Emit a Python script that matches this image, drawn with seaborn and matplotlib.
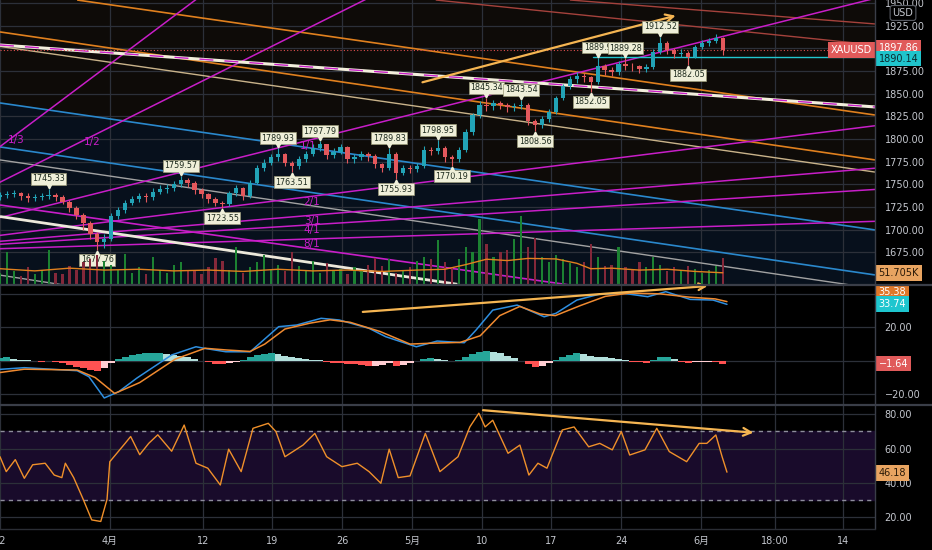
import matplotlib
matplotlib.use('Agg')
import matplotlib.pyplot as plt
import matplotlib.transforms as mtransforms
from matplotlib.lines import Line2D
import numpy as np
import pandas as pd
import seaborn as sns

# ── data: XAUUSD half-day bars ───────────────────────────────
first_open = 1736
closes = [1738, 1739, 1740, 1737, 1735, 1736, 1737, 1738, 1736, 1731,
          1724, 1716, 1707, 1695, 1686, 1690, 1715, 1722, 1730, 1734,
          1737, 1736, 1742, 1745, 1746, 1750, 1755, 1752, 1744, 1739,
          1734, 1730, 1728, 1740, 1746, 1737, 1752, 1768, 1774, 1780,
          1783, 1774, 1770, 1778, 1784, 1790, 1794, 1782, 1786, 1791,
          1778, 1780, 1783, 1781, 1772, 1768, 1784, 1763, 1768, 1767,
          1770, 1788, 1787, 1790, 1780, 1778, 1788, 1808, 1826, 1838,
          1836, 1840, 1838, 1835, 1836, 1838, 1820, 1815, 1822, 1830,
          1845, 1858, 1866, 1870, 1868, 1863, 1880, 1876, 1874, 1883,
          1881, 1880, 1877, 1879, 1896, 1906, 1898, 1894, 1895, 1891,
          1901, 1906, 1908, 1911, 1897.86]
highs = [1742, 1743, 1744, 1742, 1740, 1739, 1741, 1745.33, 1740, 1738,
         1733, 1726, 1718, 1710, 1697, 1695, 1718, 1725, 1733, 1737,
         1741, 1740, 1746, 1749, 1750, 1754, 1759.57, 1757, 1754, 1746,
         1741, 1736, 1732, 1743, 1749, 1747, 1755, 1771, 1778, 1784,
         1789.93, 1785, 1776, 1781, 1787, 1794, 1797.79, 1795, 1790, 1795,
         1792, 1784, 1787, 1786, 1783, 1774, 1789.83, 1786, 1771, 1771,
         1774, 1792, 1791, 1798.95, 1792, 1782, 1791, 1811, 1829, 1842,
         1845.34, 1843, 1842, 1840, 1840, 1843.54, 1840, 1822, 1825, 1833,
         1848, 1861, 1870, 1874, 1873, 1870, 1889.9, 1883, 1879, 1886,
         1889.28, 1884, 1882, 1883, 1899, 1912.52, 1908, 1900, 1899, 1897,
         1904, 1909, 1911, 1916, 1913]
lows = [1733, 1735, 1736, 1733, 1731, 1732, 1733, 1734, 1732, 1728,
        1720, 1712, 1700, 1690, 1677.76, 1680, 1688, 1712, 1719, 1727,
        1731, 1731, 1733, 1739, 1741, 1743, 1747, 1747, 1739, 1735,
        1730, 1726, 1723.55, 1726, 1737, 1733, 1735, 1750, 1765, 1771,
        1776, 1770, 1763.51, 1767, 1775, 1781, 1787, 1778, 1779, 1783,
        1774, 1774, 1777, 1776, 1768, 1764, 1766, 1755.93, 1760, 1763,
        1764, 1768, 1782, 1784, 1775, 1770.19, 1775, 1786, 1805, 1823,
        1831, 1832, 1833, 1830, 1831, 1833, 1815, 1808.56, 1812, 1819,
        1828, 1843, 1855, 1862, 1863, 1852.05, 1861, 1871, 1869, 1871,
        1876, 1875, 1873, 1874, 1877, 1894, 1894, 1889, 1890, 1882.05,
        1889, 1899, 1903, 1906, 1893]
volume_k = [45, 120, 50, 35, 65, 40, 55, 130, 45, 40,
            70, 55, 85, 95, 110, 90, 75, 55, 115, 45,
            65, 40, 105, 55, 45, 75, 85, 50, 55, 40,
            65, 100, 90, 55, 140, 45, 65, 85, 110, 55,
            75, 50, 120, 70, 55, 90, 45, 80, 50, 60,
            40, 65, 55, 75, 100, 70, 95, 45, 55, 65,
            90, 105, 95, 165, 85, 65, 95, 140, 120, 245,
            150, 105, 120, 130, 170, 255, 140, 175, 105, 85,
            110, 95, 80, 65, 85, 150, 105, 70, 75, 140,
            65, 55, 85, 65, 105, 75, 50, 65, 55, 70,
            60, 45, 55, 70, 100]
vol_ma_x = [0, 5, 10, 15, 20, 25, 30, 35, 40, 45, 50, 55, 60, 64, 67, 70, 73, 76,
            80, 83, 85, 88, 92, 96, 100, 104]
vol_ma_k = [60, 52, 62, 55, 58, 52, 55, 50, 58, 52, 55, 50, 55, 58, 75, 95, 90, 98,
            96, 80, 60, 62, 55, 58, 50, 45]

pivot_bars = [7, 14, 26, 32, 40, 42, 46, 56, 57, 63, 65, 70, 75, 77, 85, 86, 90, 95, 99]
pivot_kinds = ['H', 'L', 'H', 'L', 'H', 'L', 'H', 'H', 'L', 'H', 'L', 'H', 'H', 'L',
               'L', 'H', 'H', 'H', 'L']

# MACD (12,26,9)
macd_x = [0, 3.5, 11.1, 12.8, 15.0, 17.1, 19.7, 24.7, 28.2, 29.5, 32.5, 36, 40.1,
          42.7, 46.2, 48.8, 53.1, 55.5, 59.9, 62.9, 66.8, 68.5, 70.9, 74.4, 78.3,
          80, 83, 86.3, 89.8, 93.2, 95.8, 99.3, 102.6, 104.6]
macd_v = [-5.1, -4.1, -5.9, -9.5, -22.2, -18.4, -10.3, 3.5, 8.4, 7.4, 5.4, 5.4, 20.4,
          21.4, 25.4, 24.4, 19.4, 14.4, 8.4, 11.8, 10.8, 18.4, 30.3, 33.3, 26.3,
          28.4, 36.3, 39.9, 40.3, 38.3, 41.3, 36.7, 36.3, 33.74]
signal_x = [0, 3.5, 11.1, 13.7, 16.5, 20.1, 25.2, 29.5, 32.5, 36, 38.1, 41, 44.6,
            47.5, 50.4, 54.7, 59, 61.9, 66.2, 69.1, 71.9, 74.8, 77.7, 79.9, 83.5,
            87.1, 90.6, 95, 99.3, 102.9, 104.6]
signal_v = [-7, -5, -5.5, -10, -19.5, -13, 1, 7.5, 6.5, 5.6, 10, 19, 22.5,
            24.5, 23, 17.5, 10, 10.5, 11, 15, 27, 32.5, 28, 27, 33,
            38.5, 40.5, 40, 38, 37, 35.38]
hist_v = [1.5, 2, 1, 0.5, 0.3, -0.3, -0.5, -0.3, -0.8, -1.5,
          -2.5, -3.5, -4.5, -5.5, -6, -4.5, -1.5, 1, 2.5, 3.5,
          4, 4.5, 4.5, 4.5, 4, 3.5, 3, 2, 1, 0,
          -1, -1.8, -2, -1.2, -0.5, 0.5, 2, 3.5, 4.2, 4.5,
          4, 3, 2, 1.5, 1, 0.5, 0.2, -0.5, -1.2, -1.5,
          -2, -2.2, -2.5, -3, -3, -2.5, -1.5, -2.8, -2.5, -1.5,
          0, 1, 1.5, 1.2, 0.5, 0, 0.5, 2, 4, 5.5,
          6, 5.5, 4.5, 3, 1.5, 0, -2, -3.5, -3, -1.5,
          0.5, 2, 3.5, 4.5, 4, 3, 2.5, 2, 1.5, 1,
          0.5, -0.5, -1, -1.2, 0.5, 2, 2.5, 1, -1, -1.5,
          -1, -0.8, -0.7, -0.8, -1.64]

# RSI (14)
rsi_x = [0, 0.9, 2.2, 3.5, 4.7, 6.5, 7.8, 8.9, 9.4, 10.6, 11.9, 13.2, 14.5, 15.4,
         15.8, 18, 18.8, 20.1, 21.4, 22.7, 24.7, 26.5, 28.2, 29.9, 31.7, 32.9, 34.7,
         36.4, 38.6, 39.7, 41, 43.6, 45.3, 47, 49.2, 51.4, 53.1, 54.8, 56, 57.3, 59,
         61.2, 63.3, 65.9, 67.6, 68.9, 69.8, 70.9, 73.1, 74.8, 76.1, 77.4, 78.7, 80.9,
         82.6, 84.7, 86.3, 88.1, 89.4, 90.6, 92.8, 94.5, 96.3, 98.8, 100.6, 101.7,
         103, 103.9, 104.6]
rsi_v = [55.2, 46.5, 53.5, 42.6, 50.5, 51.4, 44.5, 43, 51.4, 43, 31, 18.3, 17.4, 30.3,
         52.3, 63, 67, 56.4, 63, 68, 58.4, 73.7, 51.4, 48.5, 38.7, 59.6, 46.5,
         71.8, 74.7, 69.9, 55.2, 62, 68.8, 55.2, 49.4, 51.4, 46.5, 39.7, 59.6, 43, 44,
         68.8, 46.5, 55.2, 72.6, 80.6, 72.6, 76.5, 57.2, 62, 44.5, 51.4, 48.5, 70.8,
         72.6, 61, 63, 59.2, 69.9, 56.2, 59.2, 71.8, 58.2, 52.3, 63, 63,
         67.9, 55.2, 46.18]

last_price = 1897.86
ref_price = 1890.14
ref_from_bar = 85.3
last_vol_ma = '51.705K'

# drawings: (bar0, price0, bar1, price1)
orange_lines = [(11.1, 1953.3, 125.9, 1826.5), (0, 1918.1, 125.9, 1777.0)]
beige_line = (0, 1902.1, 125.9, 1763.6)
white_upper = (0, 1903.7, 125.9, 1835.4)
white_lower = (0, 1714.6, 65.8, 1639.9)
blue_lines = [(0, 1839.8, 125.9, 1699.8), (0, 1791.3, 125.9, 1650.2)]
gray_lines = [(0, 1777.0, 122.3, 1639.2), (0, 1650.0, 9.1, 1639.2)]
red_lines = [(62.7, 1953.3, 125.9, 1903.7), (82.0, 1953.3, 125.9, 1926.9)]
magenta_line = (0, 1727.3, 82.0, 1639.1)
fan_origin = (-20.43, 1674.2)
fan_labels = ['1/3', '1/2', '1/1', '2/1', '3/1', '4/1', '8/1']
fan_slopes = [5.75, 3.83, 1.92, 0.96, 0.64, 0.48, 0.24]
fan_label_bars = [2.4, 13.2, 44.3, 44.9, 44.9, 44.9, 44.9]
price_arrow = (60.4, 1861.8, 97.6, 1936.8)
macd_arrow = (51.8, 29.1, 102.2, 44.8)
rsi_arrow = (69.1, 82.5, 108.8, 69.1)

x_ticks = [0, 15.8, 29.2, 39.1, 49.2, 59.3, 69.4, 79.3, 89.4, 100.9, 111.5, 121.3]
x_labels = ['22', '4月', '12', '19', '26', '5月', '10', '17', '24', '6月', '18:00', '14']
price_ticks = [1675, 1700, 1725, 1750, 1775, 1800, 1825, 1850, 1875, 1900, 1925, 1950]

# ── style ───────────────────────────────────────────────────
sns.set_theme(style='dark', rc={'axes.facecolor': '#000000',
                                'figure.facecolor': '#000000'})
plt.rcParams['font.family'] = ['DejaVu Sans', 'Noto Sans CJK JP']

UP, DN = '#22a3b6', '#e3585c'
GRID = '#2c3039'
TXT = '#c4c7ce'
ORANGE = '#e0801e'
MAGENTA = '#c81ec8'
ARROW = '#f5b552'

fig = plt.figure(figsize=(9.32, 5.5), dpi=100)
W = 875 / 932
ax_p = fig.add_axes([0, 1 - 285 / 550, W, 285 / 550])
ax_m = fig.add_axes([0, 1 - 405 / 550, W, 120 / 550], sharex=ax_p)
ax_r = fig.add_axes([0, 1 - 529 / 550, W, 124 / 550], sharex=ax_p)

# volume overlay (twin y inside the price pane)
ax_v = ax_p.twinx()
ax_v.set_ylim(0, 1050)
ax_v.set_yticks([])
ax_v.grid(False)
for s in ax_v.spines.values():
    s.set_visible(False)

for ax in (ax_p, ax_m, ax_r):
    for s in ax.spines.values():
        s.set_visible(False)
    ax.yaxis.tick_right()
    ax.tick_params(axis='y', length=0, pad=7, labelsize=7, labelcolor=TXT)
    ax.tick_params(axis='x', length=0, pad=5, labelsize=7, labelcolor=TXT)
    ax.grid(True, color=GRID, lw=0.9)
    ax.set_axisbelow(True)

ax_p.set_facecolor('#0e0b08')
ax_p.set_xlim(0, 125.9)
ax_p.set_ylim(1639.1, 1953.3)
ax_m.set_ylim(-26.4, 45.3)
ax_r.set_ylim(13.0, 85.4)
ax_r.set_xticks(x_ticks)
ax_r.set_xticklabels(x_labels)
ax_p.tick_params(labelbottom=False)
ax_m.tick_params(labelbottom=False)
ax_v.tick_params(labelbottom=False, labelright=False, length=0)

ax_p.set_yticks(price_ticks)
ax_p.set_yticklabels(['' if t == 1900 else f'{t:.2f}' for t in price_ticks])
ax_m.set_yticks([-20, 0, 20, 40])
ax_m.set_yticklabels(['\u221220.00', '', '20.00', ''])
ax_r.set_yticks([20, 40, 60, 80])
ax_r.set_yticklabels(['20.00', '40.00', '60.00', '80.00'])

# ── price pane ─────────────────────────────────────────────
fb = blue_lines[0]
ax_p.fill_between([fb[0], fb[2]], [fb[1], fb[3]], 1639.1, color='#07101c', zorder=0.2)


def seg(ax, s, **kw):
    ax.plot([s[0], s[2]], [s[1], s[3]], solid_capstyle='butt', **kw)


for s in orange_lines:
    seg(ax_p, s, color=ORANGE, lw=1.2, zorder=2)
seg(ax_p, beige_line, color='#c9b38a', lw=1.0, zorder=2)
for s in blue_lines:
    seg(ax_p, s, color='#2a88cc', lw=1.2, zorder=2)
for s in gray_lines:
    seg(ax_p, s, color='#a2a2a2', lw=1.0, zorder=2)
for s in red_lines:
    seg(ax_p, s, color='#a5423c', lw=1.0, zorder=2)
seg(ax_p, magenta_line, color=MAGENTA, lw=1.2, zorder=2)
seg(ax_p, white_upper, color='#f2eedc', lw=2.2, zorder=2.5)
ax_p.plot([white_upper[0], white_upper[2]], [white_upper[1], white_upper[3]],
          color=MAGENTA, lw=1.0, dashes=(10, 8), zorder=2.6)
seg(ax_p, white_lower, color='#ece8da', lw=2.0, zorder=2.5)

fx = np.array([fan_origin[0], 130.0])
for lab, sl, lb in zip(fan_labels, fan_slopes, fan_label_bars):
    ax_p.plot(fx, fan_origin[1] + sl * (fx - fan_origin[0]), color=MAGENTA, lw=1.1, zorder=2)
    yl = fan_origin[1] + sl * (lb - fan_origin[0]) - 6
    ax_p.text(lb, yl, lab, color=MAGENTA, fontsize=7.5, ha='center', va='center', zorder=3)

ax_p.axhline(last_price, color='#e05050', lw=0.8, ls=(0, (1, 2)), zorder=3)
ax_p.plot([ref_from_bar, 130], [ref_price, ref_price], color='#22c6cf', lw=1.0, zorder=3)

# candles
df = pd.DataFrame({'c': closes, 'h': highs, 'l': lows})
df['o'] = [first_open] + closes[:-1]
bars = np.arange(len(df))
up = df['c'] >= df['o']
cols = np.where(up, UP, DN)
ax_p.vlines(bars, df['l'], df['h'], colors=cols, lw=0.8, zorder=4)
body = (df['c'] - df['o']).abs().clip(lower=0.8)
ax_p.bar(bars, body, bottom=df[['o', 'c']].min(axis=1), width=0.62, color=cols,
         edgecolor='none', linewidth=0, zorder=5)

# pivot labels
for b, k in zip(pivot_bars, pivot_kinds):
    v = highs[b] if k == 'H' else lows[b]
    off = 10 if k == 'H' else -10
    ax_p.annotate(f'{v:g}', xy=(b, v), xytext=(0, off), textcoords='offset pixels',
                  ha='center', va='center', fontsize=5.8, color='#1d2a1d', zorder=9,
                  bbox=dict(boxstyle='square,pad=0.18', fc='#efefd9', ec='#9a9a78', lw=0.5))
    tr = mtransforms.offset_copy(ax_p.transData, fig=fig, x=0, y=3 if k == 'H' else -3,
                                 units='dots')
    ax_p.plot(b, v, marker='v' if k == 'H' else '^', ms=3.5, color='#efefd9',
              transform=tr, zorder=9)

# trend arrow on price
ax_p.annotate('', xy=price_arrow[2:], xytext=price_arrow[:2],
              arrowprops=dict(arrowstyle='->', color=ARROW, lw=1.6, mutation_scale=14), zorder=6)

# volume
vcols = np.where(up, '#1c8232', '#84283a')
ax_v.bar(bars, volume_k, width=0.32, color=vcols, edgecolor='none', linewidth=0, zorder=3)
sns.lineplot(x=vol_ma_x, y=vol_ma_k, ax=ax_v, color=ORANGE, lw=1.0, zorder=4)

# ── MACD pane ──────────────────────────────────────────────
hcols = []
for i, h in enumerate(hist_v):
    prev = hist_v[i - 1] if i else h
    if h >= 0:
        hcols.append('#26a69a' if h >= prev else '#b2dfdb')
    else:
        hcols.append('#ff5252' if h < prev else '#ffcdd2')
ax_m.bar(bars, hist_v, width=1.0, color=hcols, edgecolor='none', linewidth=0, zorder=2)
sns.lineplot(x=macd_x, y=macd_v, ax=ax_m, color='#2f8fe0', lw=1.1, zorder=3)
sns.lineplot(x=signal_x, y=signal_v, ax=ax_m, color='#f08a30', lw=1.1, zorder=3)
ax_m.annotate('', xy=macd_arrow[2:], xytext=macd_arrow[:2],
              arrowprops=dict(arrowstyle='->', color=ARROW, lw=1.6, mutation_scale=12), zorder=6)

# ── RSI pane ───────────────────────────────────────────────
ax_r.axhspan(30, 70, color='#190b2b', zorder=0.1)
for lv in (70, 30):
    ax_r.axhline(lv, color='#8e8e9c', lw=1.0, ls=(0, (3, 3)), zorder=1)
sns.lineplot(x=rsi_x, y=rsi_v, ax=ax_r, color='#f0902a', lw=1.0, zorder=3)
ax_r.annotate('', xy=rsi_arrow[2:], xytext=rsi_arrow[:2],
              arrowprops=dict(arrowstyle='->', color=ARROW, lw=1.6, mutation_scale=14), zorder=6)

for ax in (ax_p, ax_m, ax_r, ax_v):
    ax.set_xlabel('')
    ax.set_ylabel('')


# ── right-scale labels ─────────────────────────────────────
def side_label(ax, y, text, fc, tc='white', x=1.004, ha='left'):
    tr = mtransforms.blended_transform_factory(ax.transAxes, ax.transData)
    ax.text(x, y, text, transform=tr, ha=ha, va='center', fontsize=7, color=tc,
            clip_on=False, zorder=20,
            bbox=dict(boxstyle='square,pad=0.3', fc=fc, ec='none'))


side_label(ax_p, 1900.4, f'{last_price:.2f}', '#e05a5a')
side_label(ax_p, 1888.8, f'{ref_price:.2f}', '#20c4cc', tc='#0b2b30')
side_label(ax_p, last_price, 'XAUUSD', '#e05a5a', x=0.9966, ha='right')
side_label(ax_p, 1652.2, last_vol_ma, '#e8a461', tc='#2a1a08')
tr_usd = mtransforms.blended_transform_factory(ax_p.transAxes, ax_p.transData)
ax_p.text(1.032, 1939.0, 'USD', transform=tr_usd, ha='center', va='center', fontsize=7,
          color=TXT, clip_on=False, zorder=20,
          bbox=dict(boxstyle='round,pad=0.25', fc='#000000', ec='#5a5e66', lw=0.8))
side_label(ax_m, 41.1, '35.38', '#e0782a')
side_label(ax_m, 33.74, '33.74', '#1ec6cf')
side_label(ax_m, -1.64, '\u22121.64', '#e05a5a')
side_label(ax_r, 45.7, '46.18', '#e8a461', tc='#2a1a08')

# pane separators and scale border
for yy in (285, 405):
    fig.add_artist(Line2D([0, 1], [1 - yy / 550] * 2, color='#3a3e48', lw=1.6))
fig.add_artist(Line2D([W, W], [1 - 529 / 550, 1], color='#3a3e48', lw=1.0))
fig.add_artist(Line2D([0, W], [1 - 529 / 550] * 2, color='#2a2d34', lw=1.0))

fig.savefig('out.png', dpi=100, facecolor='#000000')
